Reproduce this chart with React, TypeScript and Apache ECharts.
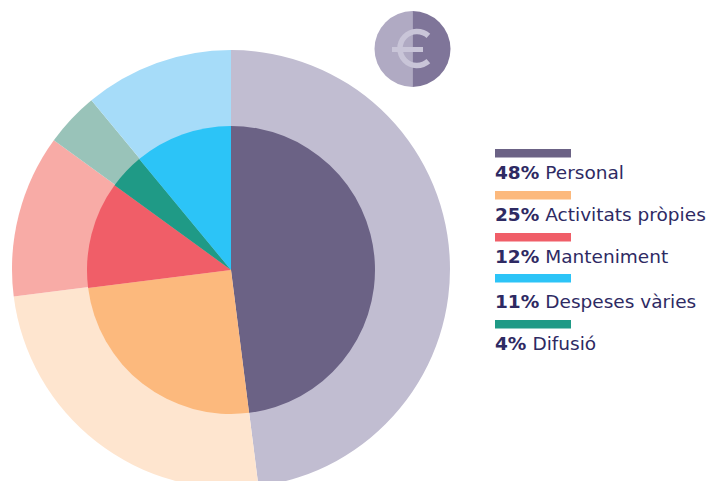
import React, { useEffect, useRef } from "react";
import * as echarts from "echarts";

const pieNames = ["Personal", "Activitats pròpies", "Manteniment", "Difusió", "Despeses vàries"];
const pieValues = [48, 25, 12, 4, 11];
const innerColors = ["#6b6285", "#fcb97d", "#f05e68", "#1f9a86", "#2cc4f7"];
const outerColors = ["#c1bdd1", "#fee5cf", "#f8aba6", "#99c3b9", "#a6dcf9"];

const legendNames = ["Personal", "Activitats pròpies", "Manteniment", "Despeses vàries", "Difusió"];
const legendValues = ["48%", "25%", "12%", "11%", "4%"];
const legendColors = ["#6b6285", "#fcb97d", "#f05e68", "#2cc4f7", "#1f9a86"];
const legendBarY = [149, 191, 233, 274, 320];
const legendTextY = [172, 214, 256, 301, 343];

const TEXT = "#2e2a63";
const FONT = "'DejaVu Sans', sans-serif";

export default function App() {
  const ref = useRef<HTMLDivElement>(null);
  useEffect(() => {
    document.body.style.margin = "0";
    const chart = echarts.init(ref.current!, null, { renderer: "svg" });
    const data = (colors: string[]) =>
      pieNames.map((name, i) => ({ name, value: pieValues[i], itemStyle: { color: colors[i] } }));
    const pieBase = {
      type: "pie",
      startAngle: 90,
      clockwise: true,
      silent: true,
      label: { show: false },
      labelLine: { show: false },
      itemStyle: { borderWidth: 0 },
    };
    const legendGraphics = legendNames.flatMap((name, i) => [
      {
        type: "rect",
        shape: { x: 495, y: legendBarY[i], width: 76, height: 8.5 },
        style: { fill: legendColors[i] },
      },
      {
        type: "text",
        x: 495,
        y: legendTextY[i],
        style: {
          text: `{v|${legendValues[i]}}{s| }{n|${name}}`,
          verticalAlign: "middle",
          rich: {
            v: { fill: TEXT, fontWeight: 800, fontSize: 18.5, fontFamily: FONT },
            s: { fontSize: 18, fontFamily: FONT, width: 6 },
            n: { fill: TEXT, fontWeight: 400, fontSize: 18.5, fontFamily: FONT },
          },
        },
      },
    ]);
    chart.setOption({
      animation: false,
      series: [
        { ...pieBase, name: "outer", center: [231, 269], radius: [0, 219], z: 1, data: data(outerColors) },
        { ...pieBase, name: "inner", center: [231, 270], radius: [0, 144], z: 2, data: data(innerColors) },
      ],
      graphic: [
        {
          type: "sector",
          shape: { cx: 412.5, cy: 49, r: 38, startAngle: Math.PI / 2, endAngle: (3 * Math.PI) / 2 },
          style: { fill: "#b0aac3" },
        },
        {
          type: "sector",
          shape: { cx: 412.5, cy: 49, r: 38, startAngle: -Math.PI / 2, endAngle: Math.PI / 2 },
          style: { fill: "#7f7599" },
        },
        {
          type: "arc",
          shape: { cx: 417, cy: 48.5, r: 17, startAngle: (48 * Math.PI) / 180, endAngle: (312 * Math.PI) / 180, clockwise: true },
          style: { stroke: "#c9c5d8", lineWidth: 5.5, fill: "none" },
        },
        {
          type: "line",
          shape: { x1: 392, y1: 49.5, x2: 423, y2: 49.5 },
          style: { stroke: "#c9c5d8", lineWidth: 5 },
        },
        ...legendGraphics,
      ],
    });
    return () => chart.dispose();
  }, []);
  return <div ref={ref} style={{ width: 707, height: 481 }} />;
}
